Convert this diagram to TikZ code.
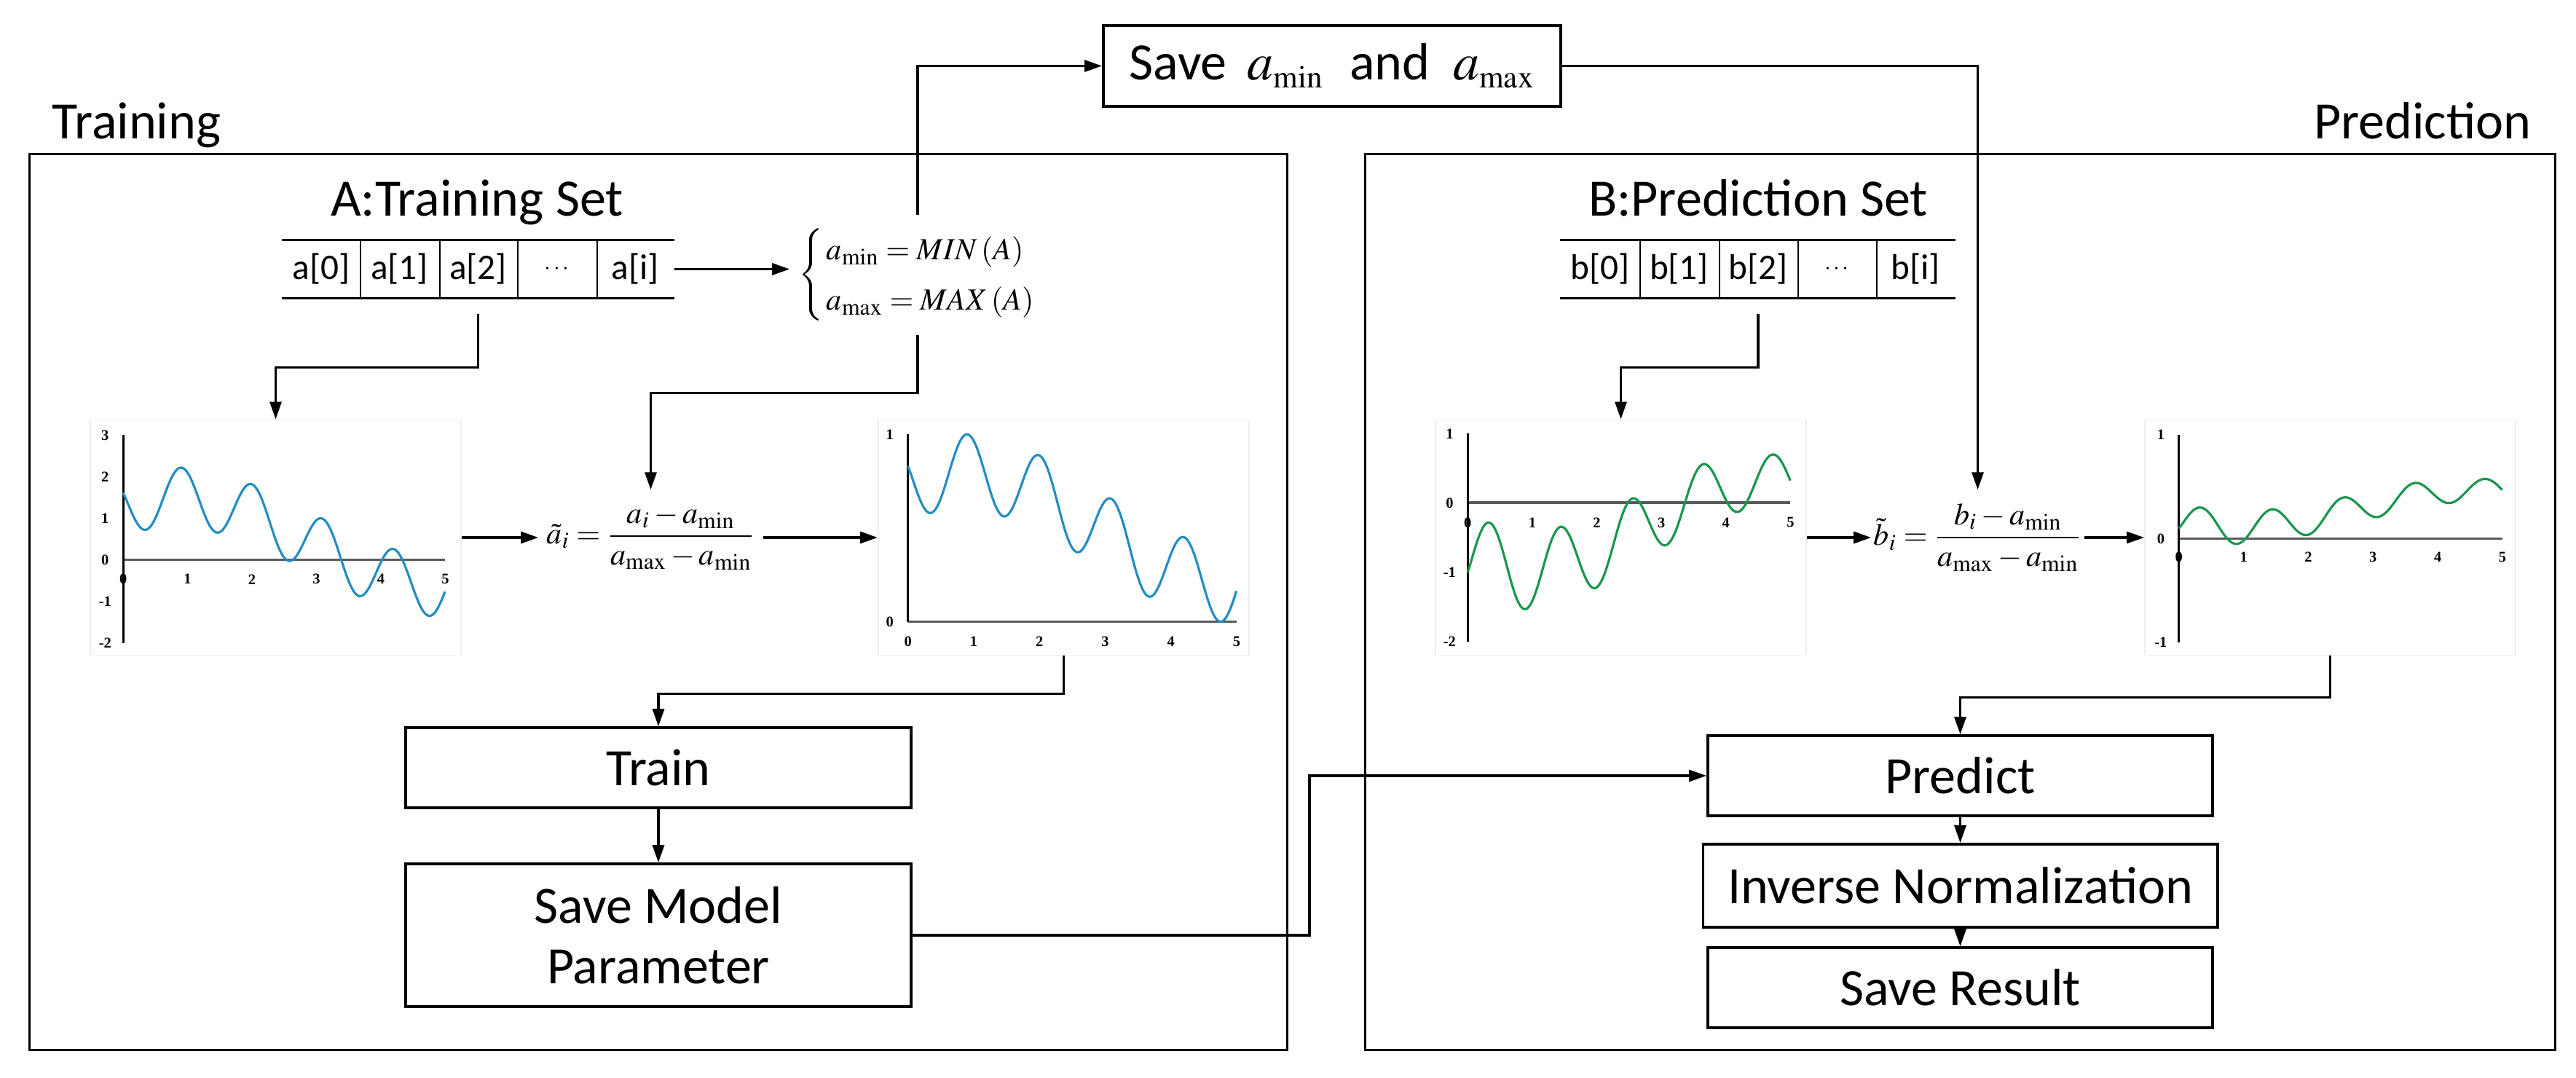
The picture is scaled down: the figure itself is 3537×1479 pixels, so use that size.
\documentclass[tikz,border=0pt]{standalone}
\usepackage{mathptmx}
\usepackage[no-math]{fontspec}
\setmainfont{Carlito}
\newfontfamily\tickfont{Liberation Serif}
\usetikzlibrary{arrows.meta}
\definecolor{curveblue}{RGB}{35,140,195}
\definecolor{curvegreen}{RGB}{25,150,75}
\definecolor{axisgray}{RGB}{90,90,90}
\definecolor{framegray}{RGB}{238,238,238}
\begin{document}
\begin{tikzpicture}[x=0.01cm,y=-0.01cm,
  every node/.style={font=\fontsize{20.5}{23.5}\selectfont},
  panel/.style={draw, line width=1pt, inner sep=0},
  procbox/.style={draw, line width=1pt, fill=white, inner sep=0, align=center},
  cell/.style={inner sep=0, minimum height=0.79cm, font=\fontsize{14}{16}\selectfont},
  conn/.style={line width=0.9pt, -{Triangle[length=0.24cm,width=0.16cm]}},
  plotframe/.style={draw=framegray, line width=0.5pt, inner sep=0, minimum width=5.09cm, minimum height=3.23cm},
  ticklbl/.style={font=\tickfont\bfseries\fontsize{5.8}{6}\selectfont, inner sep=0},
  haxis/.style={draw=axisgray, line width=1.1pt},
  vaxis/.style={draw=black, line width=0.8pt},
  declare function={fA(\t)=0.425+1.075*cos(42.86*(\t-0.8))+0.72*sin(327.3*\t+155.4);
                    fB(\t)=-0.32-0.64*cos(48.65*(\t-0.9))+(0.62-0.05*\t)*sin(327.3*\t-21.3);}]
\useasboundingbox (0,0) rectangle (3537,1479);

% panels
\node[panel, minimum width=17.26cm, minimum height=12.29cm] (trainpanel) at (904,826.5) {};
\node[panel, minimum width=16.33cm, minimum height=12.29cm] (predpanel) at (2691.5,826.5) {};

% labels
\node[anchor=base west, inner sep=0] (trainlbl) at (71,190) {Training};
\node[anchor=base east, inner sep=0] (predlbl) at (3476,190) {Prediction};
\node[anchor=base, inner sep=0] (aset) at (655,296) {A:Training Set};
\node[anchor=base, inner sep=0] (bset) at (2414,296) {B:Prediction Set};

% array A
\node[cell, minimum width=1.06cm] (a0) at (441,369.5) {a[0]};
\node[cell, minimum width=1.09cm] (a1) at (548.5,369.5) {a[1]};
\node[cell, minimum width=1.07cm] (a2) at (656.5,369.5) {a[2]};
\node[cell, minimum width=1.09cm] (ad) at (764.5,369.5) {\fontsize{9}{10}\selectfont$\cdots$};
\node[cell, minimum width=1.06cm] (ai) at (872,369.5) {a[i]};
\draw[line width=1pt] (a0.north west) -- (ai.north east);
\draw[line width=1pt] (a0.south west) -- (ai.south east);
\foreach \c in {a0,a1,a2,ad} \draw[line width=0.6pt] (\c.north east) -- (\c.south east);

% array B
\node[cell, minimum width=1.08cm] (b0) at (2197,369.5) {b[0]};
\node[cell, minimum width=1.09cm] (b1) at (2305.5,369.5) {b[1]};
\node[cell, minimum width=1.08cm] (b2) at (2414,369.5) {b[2]};
\node[cell, minimum width=1.08cm] (bd) at (2522,369.5) {\fontsize{9}{10}\selectfont$\cdots$};
\node[cell, minimum width=1.08cm] (bi) at (2630,369.5) {b[i]};
\draw[line width=1pt] (b0.north west) -- (bi.north east);
\draw[line width=1pt] (b0.south west) -- (bi.south east);
\foreach \c in {b0,b1,b2,bd} \draw[line width=0.6pt] (\c.north east) -- (\c.south east);

% min / max system
\node[inner sep=0, minimum width=3.5cm, minimum height=1.63cm, font=\fontsize{12}{14}\selectfont] (sys) at (1260,377.5)
  {$\renewcommand{\arraystretch}{1.4}\left\{\,\begin{array}{@{}l@{}} a_{\min} = MIN\left(A\right)\\ a_{\max} = MAX\left(A\right)\end{array}\right.$};

% save box
\node[procbox, minimum width=6.28cm, minimum height=1.11cm] (save) at (1829,90.5)
  {Save\hspace{8pt}$a_{\scriptscriptstyle\min}$\hspace{10pt}and\hspace{9pt}$a_{\scriptscriptstyle\max}$};

% formulas
\node[inner sep=0, minimum width=3.07cm, minimum height=1.30cm, font=\fontsize{12}{14}\selectfont] (f1) at (893.5,738)
  {$\displaystyle \tilde{a}_i = \frac{a_i - a_{\min}}{a_{\max} - a_{\min}}$};
\node[inner sep=0, minimum width=2.91cm, minimum height=1.30cm, font=\fontsize{12}{14}\selectfont] (f2) at (2715.5,738)
  {$\displaystyle \tilde{b}_i = \frac{b_i - a_{\min}}{a_{\max} - a_{\min}}$};

% plot 1 (training data)
\node[plotframe] (p1) at (378.5,738) {};
\begin{scope}[shift={(1.69cm,-7.68cm)}, x=0.884cm, y=0.57cm]
  \draw[haxis] (0,0) -- (5,0);
  \draw[vaxis] (0,3) -- (0,-2);
  \foreach \v in {3,2,1,0,-1,-2} \node[ticklbl] (p1y\v) at (-0.28,\v) {\v};
  \foreach \v in {0,...,5} \node[ticklbl] (p1x\v) at (\v,-0.47) {\v};
  \draw[curveblue, line width=0.9pt, domain=0:5, samples=250] plot (\x,{fA(\x)});
\end{scope}

% plot 2 (normalized training)
\node[plotframe] (p2) at (1460.5,738) {};
\begin{scope}[shift={(12.46cm,-8.53cm)}, x=0.902cm, y=2.57cm]
  \draw[haxis] (0,0) -- (5,0);
  \draw[vaxis] (0,1) -- (0,0);
  \foreach \v in {1,0} \node[ticklbl] (p2y\v) at (-0.277,\v) {\v};
  \foreach \v in {0,...,5} \node[ticklbl] (p2x\v) at (\v,-0.105) {\v};
  \draw[curveblue, line width=0.9pt, domain=0:5, samples=250] plot (\x,{(fA(\x)+1.352)/3.569});
\end{scope}

% plot 3 (prediction data)
\node[plotframe] (p3) at (2225.5,738) {};
\begin{scope}[shift={(20.14cm,-6.90cm)}, x=0.886cm, y=0.95cm]
  \draw[haxis] (0,0) -- (5,0);
  \draw[vaxis] (0,1) -- (0,-2);
  \foreach \v in {1,0,-1,-2} \node[ticklbl] (p3y\v) at (-0.28,\v) {\v};
  \foreach \v in {0,...,5} \node[ticklbl] (p3x\v) at (\v,-0.284) {\v};
  \draw[curvegreen, line width=0.9pt, domain=0:5, samples=250] plot (\x,{fB(\x)});
\end{scope}

% plot 4 (normalized prediction)
\node[plotframe] (p4) at (3199.5,738) {};
\begin{scope}[shift={(29.90cm,-7.39cm)}, x=0.888cm, y=1.425cm]
  \draw[haxis] (0,0) -- (5,0);
  \draw[vaxis] (0,1) -- (0,-1);
  \foreach \v in {1,0,-1} \node[ticklbl] (p4y\v) at (-0.28,\v) {\v};
  \foreach \v in {0,...,5} \node[ticklbl] (p4x\v) at (\v,-0.18) {\v};
  \draw[curvegreen, line width=0.9pt, domain=0:5, samples=250] plot (\x,{(fB(\x)+1.352)/3.569});
\end{scope}

% process boxes
\node[procbox, minimum width=6.94cm, minimum height=1.10cm] (train) at (904,1054) {Train};
\node[procbox, minimum width=6.94cm, minimum height=1.96cm] (smp) at (904,1284) {Save Model\\Parameter};
\node[procbox, minimum width=6.93cm, minimum height=1.10cm] (predict) at (2691.5,1065) {Predict};
\node[procbox, minimum width=7.06cm, minimum height=1.14cm] (invnorm) at (2691.5,1216) {Inverse Normalization};
\node[procbox, minimum width=6.93cm, minimum height=1.10cm] (saveres) at (2691.5,1356) {Save Result};

% connectors
\draw[conn] (ai.east) -- (ai.east -| sys.west);
\draw[conn] (sys.north) |- (save.west);
\draw[conn] (sys.south) -- ++(0,80) -| (f1.north);
\draw[conn, shorten <=0.21cm] (a2.south) -- ++(0,95) -| (p1.north);
\draw[conn] (p1.east) -- (f1.west);
\draw[conn] (f1.east) -- (p2.west);
\draw[conn] (p2.south) -- ++(0,52) -| (train.north);
\draw[conn] (train.south) -- (smp.north);
\draw[conn] (smp.east) -- ++(545,0) |- (predict.west);
\draw[conn] (save.east) -| (f2.north);
\draw[conn, shorten <=0.21cm] (b2.south) -- ++(0,95) -| (p3.north);
\draw[conn] (p3.east) -- (f2.west);
\draw[conn] (f2.east) -- (p4.west);
\draw[conn] (p4.south) -- ++(0,57) -| (predict.north);
\draw[conn] (predict.south) -- (invnorm.north);
\draw[conn] (invnorm.south) -- (saveres.north);
\end{tikzpicture}
\end{document}
